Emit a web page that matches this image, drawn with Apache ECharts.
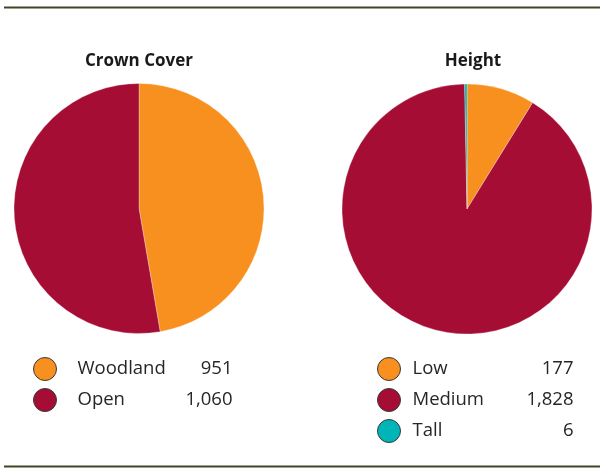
<!DOCTYPE html>
<html><head><meta charset="utf-8">
<script src="https://cdn.jsdelivr.net/npm/echarts@6/dist/echarts.min.js"></script>
<style>html,body{margin:0;padding:0;background:#fff}#c{width:604px;height:468px}</style>
</head><body><div id="c"></div>
<script>
var coverNames = ['Woodland', 'Open'];
var coverValues = [951, 1060];
var heightNames = ['Low', 'Medium', 'Tall'];
var heightValues = [177, 1828, 6];
var coverColors = ['#F7901E', '#A50D34'];
var heightColors = ['#F7901E', '#A50D34', '#00B5B8'];

function fmt(v){ return v.toLocaleString('en-US'); }
function toData(names, vals, cols){
  return names.map(function(n,i){ return {name:n, value:vals[i], itemStyle:{color:cols[i]}}; });
}
var coverData = toData(coverNames, coverValues, coverColors);
var heightData = toData(heightNames, heightValues, heightColors);
var lookup = {};
coverNames.forEach(function(n,i){ lookup['c_'+n]=coverValues[i]; });
heightNames.forEach(function(n,i){ lookup['h_'+n]=heightValues[i]; });

var font = '"Open Sans", "Liberation Sans", sans-serif';
var fs = 18.5;
var chart = echarts.init(document.getElementById('c'), null, {renderer:'canvas'});
chart.setOption({
  backgroundColor: '#fff',
  animation: false,
  title: [
    {text:'Crown Cover', left:134, top:48, textAlign:'center', textStyle:{fontFamily:font, fontSize:17, fontWeight:'bold', color:'#1a1a1a'}},
    {text:'Height', left:468, top:48, textAlign:'center', textStyle:{fontFamily:font, fontSize:17, fontWeight:'bold', color:'#1a1a1a'}}
  ],
  legend: [
    {
      data: coverNames, orient:'vertical', left:28, top:352, icon:'circle',
      itemWidth:23, itemHeight:23, itemGap:7,
      itemStyle:{borderColor:'#3a3a3a', borderWidth:1},
      selectedMode:false,
      formatter: function(n){ return '{n|'+n+'}{v|'+fmt(lookup['c_'+n])+'}'; },
      textStyle:{fontFamily:font, fontSize:fs, color:'#262626', lineHeight:20,
        rich:{n:{width:95, padding:[0,0,0,16], fontFamily:font, fontSize:fs, lineHeight:20, color:'#262626'},
              v:{width:60, align:'right', fontFamily:font, fontSize:fs, lineHeight:20, color:'#262626'}}}
    },
    {
      data: heightNames, orient:'vertical', left:372, top:352, icon:'circle',
      itemWidth:23, itemHeight:23, itemGap:7,
      itemStyle:{borderColor:'#3a3a3a', borderWidth:1},
      selectedMode:false,
      formatter: function(n){ return '{n|'+n+'}{v|'+fmt(lookup['h_'+n])+'}'; },
      textStyle:{fontFamily:font, fontSize:fs, color:'#262626', lineHeight:20,
        rich:{n:{width:95, padding:[0,0,0,7], fontFamily:font, fontSize:fs, lineHeight:20, color:'#262626'},
              v:{width:66, align:'right', fontFamily:font, fontSize:fs, lineHeight:20, color:'#262626'}}}
    }
  ],
  series: [
    {type:'pie', center:[139,208.5], radius:[0,125], startAngle:90, clockwise:true,
     label:{show:false}, labelLine:{show:false}, emphasis:{disabled:true},
     itemStyle:{borderColor:'#fff', borderWidth:0.3}, data:coverData},
    {type:'pie', center:[467,209], radius:[0,125], startAngle:90, clockwise:true,
     label:{show:false}, labelLine:{show:false}, emphasis:{disabled:true}, minAngle:0,
     itemStyle:{borderColor:'#fff', borderWidth:0.3}, data:heightData}
  ],
  graphic: [
    {type:'line', shape:{x1:4, y1:7.5, x2:600, y2:7.5}, style:{stroke:'#3d4727', lineWidth:2}},
    {type:'line', shape:{x1:4, y1:466.5, x2:600, y2:466.5}, style:{stroke:'#3d4727', lineWidth:2}}
  ]
});
</script></body></html>
